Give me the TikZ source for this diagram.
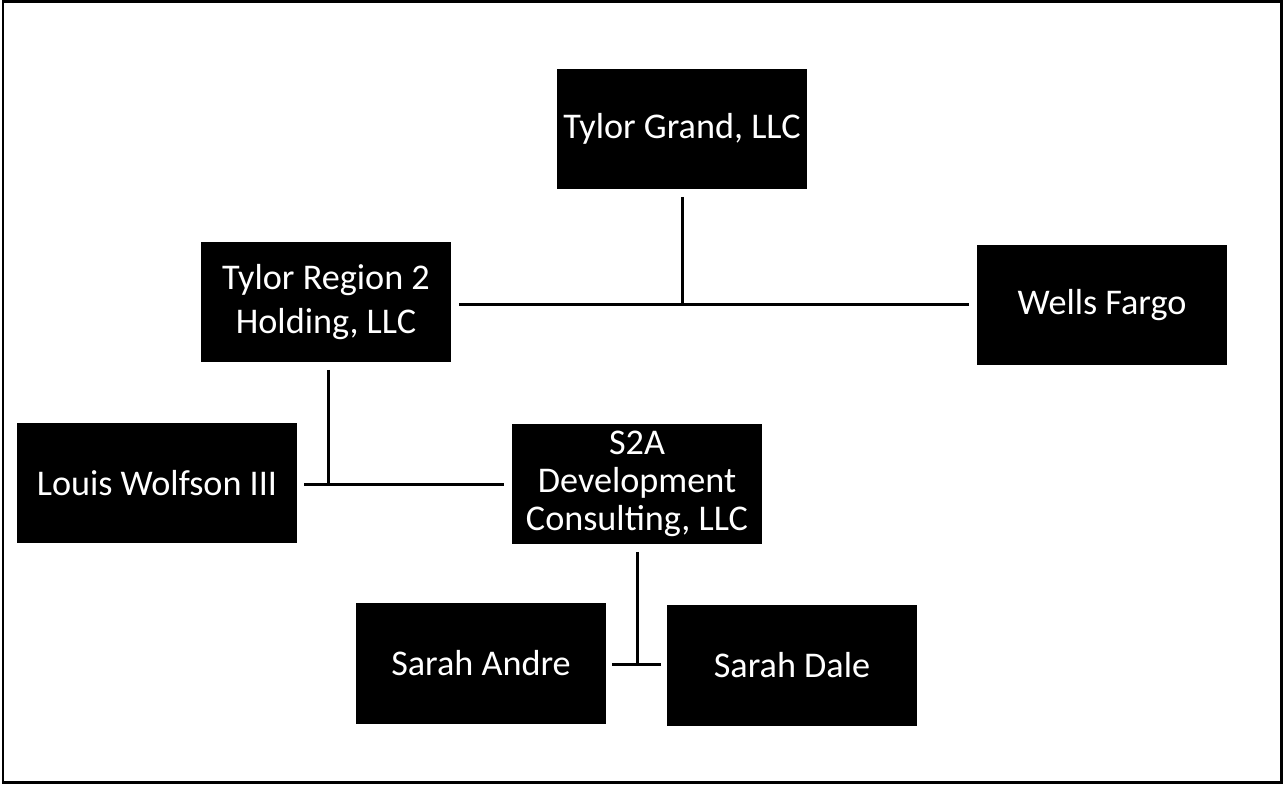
\documentclass[tikz,border=0pt]{standalone}
\usepackage{fontspec}
\setmainfont{Carlito}
\usetikzlibrary{positioning}

\tikzset{
	entity/.style={rectangle, fill=black, text=white, inner sep=0pt, minimum width=5.02cm, minimum height=2.42cm, align=center, font=\fontsize{20.6}{21.8}\selectfont},
	link/.style={line width=0.06cm, shorten <=0.14cm, shorten >=0.14cm}
}

\begin{document}
	\begin{tikzpicture}[x=0.02cm,y=-0.02cm]
		\useasboundingbox (0,0) rectangle (1284,785);
		\draw[line width=0.06cm] (3,1) rectangle (1281,782);

		\draw (682,129) node (grand) [entity] {Tylor Grand, LLC};
		\draw (326,302) node (region) [entity] {Tylor Region 2\\[0.12cm]Holding, LLC};
		\draw (1102,305) node (wells) [entity] {Wells Fargo};
		\draw (157,483) node (louis) [entity, minimum width=5.6cm] {Louis Wolfson III};
		\draw (637,484) node (stwoa) [entity] {S2A\\Development\\Consulting, LLC};
		\draw (481,663) node (andre) [entity] {Sarah Andre};
		\draw (792,665) node (dale) [entity] {Sarah Dale};

		% owners joined under each parent
		\draw[link] (region.east |- 0,304) -- (wells.west |- 0,304);
		\draw[link, shorten >=0pt] (grand.south) -- (grand.south |- 0,304);

		\draw[link] (louis.east |- 0,484) -- (stwoa.west |- 0,484);
		\draw[link, shorten >=0pt] (region.south -| 328,0) -- (328,484);

		\draw[link, shorten <=0.1cm, shorten >=0.1cm] (andre.east |- 0,664) -- (dale.west |- 0,664);
		\draw[link, shorten >=0pt] (stwoa.south) -- (stwoa.south |- 0,664);
	\end{tikzpicture}
\end{document}
